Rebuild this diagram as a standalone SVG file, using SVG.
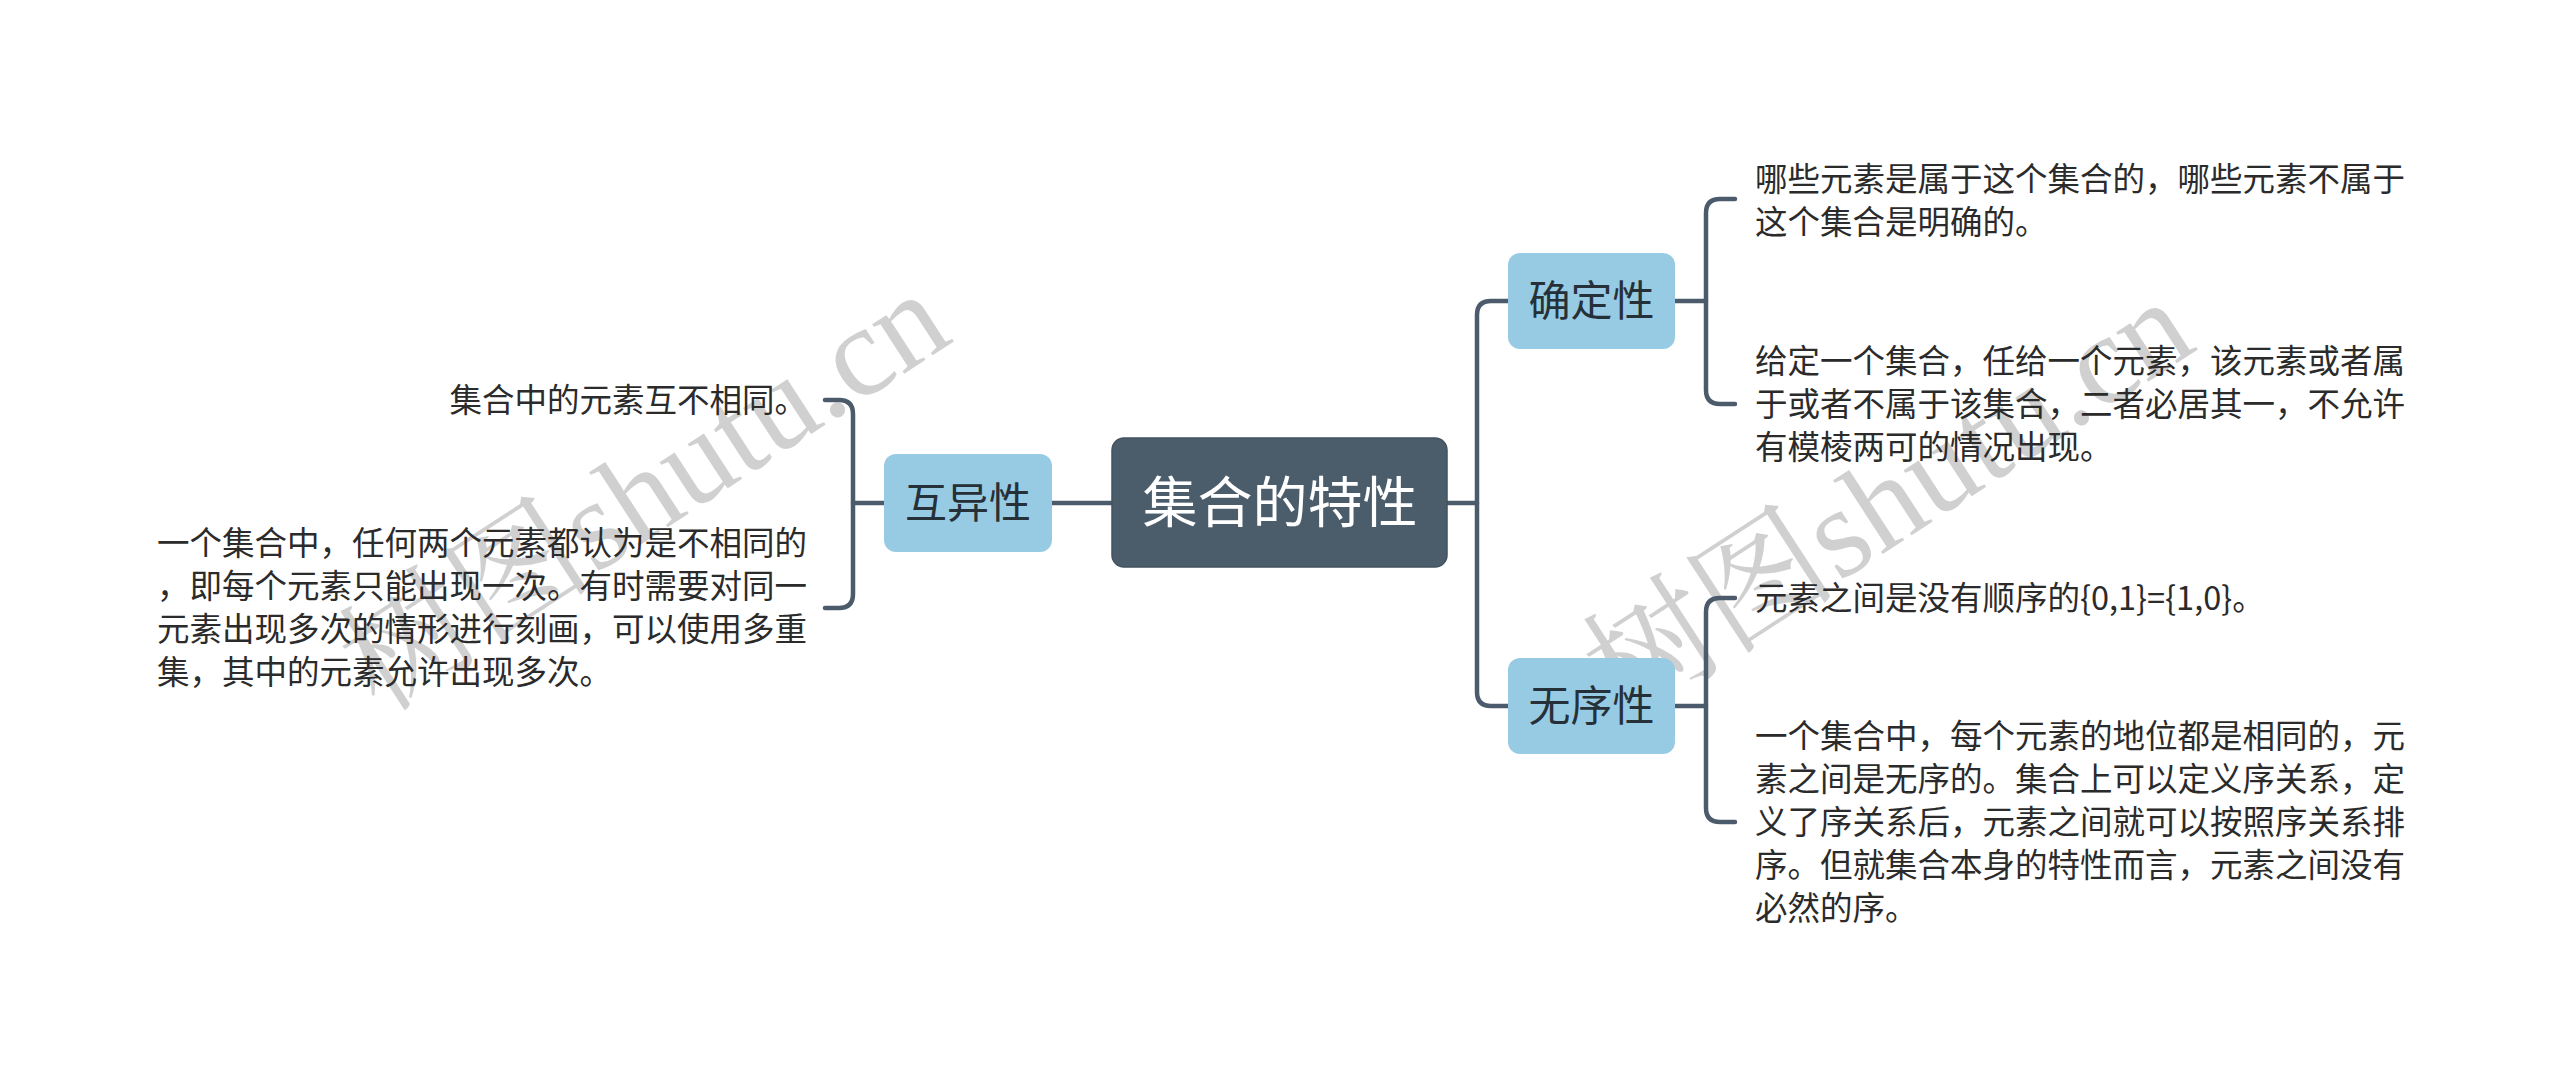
<svg xmlns="http://www.w3.org/2000/svg" width="2560" height="1080" viewBox="0 0 2560 1080">
<style>
.wm{font-family:"Liberation Serif","Noto Serif CJK SC","Noto Sans CJK SC",serif;font-size:128px;fill:#d0d0d0;}
.conn{fill:none;stroke:#4b5b6b;stroke-width:4.5;stroke-linecap:round;stroke-linejoin:round;}
.root rect{fill:#4b5c6b;stroke:#44525f;stroke-width:1.5;}
.root text{font-family:"Noto Sans CJK SC","Noto Sans",sans-serif;font-size:55px;fill:#ffffff;text-anchor:middle;}
.topic rect{fill:#96cbe3;}
.topic text{font-family:"Noto Sans CJK SC","Noto Sans",sans-serif;font-size:42px;fill:#263038;text-anchor:middle;}
.leaf text{font-family:"Noto Sans CJK SC","Noto Sans",sans-serif;font-size:32.5px;fill:#2b2b2b;}
</style>
<rect width="2560" height="1080" fill="#ffffff"/>
<g id="watermark">
<text class="wm" transform="translate(380,714) rotate(-33)">树图shutu.cn</text>
<text class="wm" transform="translate(1624,722) rotate(-33)">树图shutu.cn</text>
</g>
<g id="connectors">
<path class="conn" d="M1112 503 H1052"/>
<path class="conn" d="M1447 503 H1477"/>
<path class="conn" d="M1508 301 H1491 Q1477 301 1477 315 V692 Q1477 706 1491 706 H1508"/>
<path class="conn" d="M884 503 H853"/>
<path class="conn" d="M825 400 H839 Q853 400 853 414 V594 Q853 608 839 608 H825"/>
<path class="conn" d="M1675 301 H1706"/>
<path class="conn" d="M1735 199 H1720 Q1706 199 1706 213 V390 Q1706 404 1720 404 H1735"/>
<path class="conn" d="M1675 706 H1706"/>
<path class="conn" d="M1735 598 H1720 Q1706 598 1706 612 V808 Q1706 822 1720 822 H1735"/>
</g>
<g id="root" class="root">
<rect x="1112" y="438" width="335" height="129" rx="12"/>
<text x="1280" y="522">集合的特性</text>
</g>
<g id="topic-huyixing" class="topic">
<rect x="884" y="454" width="168" height="98" rx="12"/>
<text x="968" y="518">互异性</text>
</g>
<g id="topic-quedingxing" class="topic">
<rect x="1508" y="253" width="167" height="96" rx="12"/>
<text x="1591.5" y="316">确定性</text>
</g>
<g id="topic-wuxuxing" class="topic">
<rect x="1508" y="658" width="167" height="96" rx="12"/>
<text x="1591.5" y="721">无序性</text>
</g>
<g id="leaf-l1" class="leaf">
<text x="807" y="412" text-anchor="end">集合中的元素互不相同。</text>
</g>
<g id="leaf-l2" class="leaf">
<text x="157" y="554.5">一个集合中，任何两个元素都认为是不相同的</text>
<text x="157" y="597.5">，即每个元素只能出现一次。有时需要对同一</text>
<text x="157" y="640.5">元素出现多次的情形进行刻画，可以使用多重</text>
<text x="157" y="683.5">集，其中的元素允许出现多次。</text>
</g>
<g id="leaf-r1" class="leaf">
<text x="1755" y="190.5">哪些元素是属于这个集合的，哪些元素不属于</text>
<text x="1755" y="233.5">这个集合是明确的。</text>
</g>
<g id="leaf-r2" class="leaf">
<text x="1755" y="373">给定一个集合，任给一个元素，该元素或者属</text>
<text x="1755" y="416">于或者不属于该集合，二者必居其一，不允许</text>
<text x="1755" y="459">有模棱两可的情况出现。</text>
</g>
<g id="leaf-r3" class="leaf">
<text x="1755" y="610">元素之间是没有顺序的{0,1}={1,0}。</text>
</g>
<g id="leaf-r4" class="leaf">
<text x="1755" y="748">一个集合中，每个元素的地位都是相同的，元</text>
<text x="1755" y="791">素之间是无序的。集合上可以定义序关系，定</text>
<text x="1755" y="834">义了序关系后，元素之间就可以按照序关系排</text>
<text x="1755" y="877">序。但就集合本身的特性而言，元素之间没有</text>
<text x="1755" y="920">必然的序。</text>
</g>
</svg>
